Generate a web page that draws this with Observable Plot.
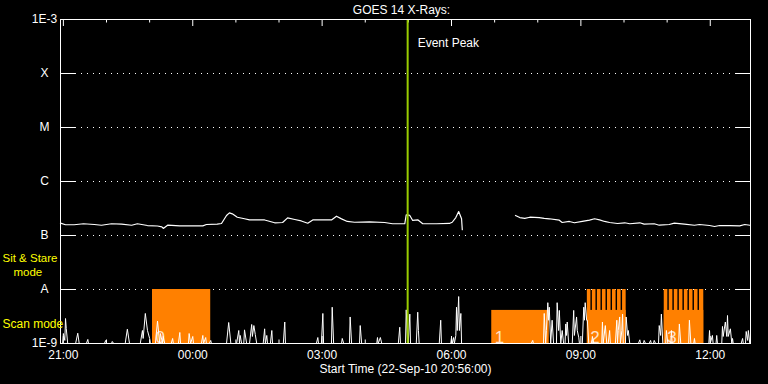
<!DOCTYPE html>
<html><head><meta charset="utf-8">
<script src="https://cdn.jsdelivr.net/npm/d3@7"></script>
<script src="https://cdn.jsdelivr.net/npm/@observablehq/plot@0.6"></script>
<style>html,body{margin:0;padding:0;background:#000;} svg{display:block}</style>
</head><body><div id="chart"></div>
<script>
// ---- data ----
const titleText = "GOES 14 X-Rays:";
const startText = "Start Time (22-Sep-10 20:56:00)";
const xTickLabels = ["21:00", "00:00", "03:00", "06:00", "09:00", "12:00"];
const yTickValues = [1e-9, 1e-8, 1e-7, 1e-6, 1e-5, 1e-4, 1e-3];
const yTickLabels = ["1E-9", "A", "B", "C", "M", "X", "1E-3"];
const gridValues = [1e-8, 1e-7, 1e-6, 1e-5, 1e-4];
const eventPeak = "04:59";
const eventLabel = "Event Peak";

// GOES long channel: [minutes since 20:56, flux in 1e-7 W/m2]; NaN = data gap
const xray = [[0,1.69],[7,1.58],[19,1.58],[32,1.65],[47,1.60],[57,1.55],[71,1.65],[85,1.62],[99,1.55],[107,1.65],
[121,1.53],[135,1.50],[141,1.45],[143,1.35],[149,1.55],[166,1.51],[186,1.51],[198,1.51],[203,1.60],[218,1.62],
[224,1.67],[231,2.35],[235,2.62],[239,2.52],[246,2.18],[256,2.04],[263,1.94],[284,1.94],[298,1.72],[309,1.74],
[316,2.12],[326,1.98],[335,1.86],[344,1.69],[351,1.94],[365,1.95],[377,1.94],[384,2.28],[391,2.03],[399,1.82],
[409,1.76],[430,1.79],[451,1.74],[462,1.65],[479,1.65],[481,2.42],[486,2.35],[490,1.90],[497,1.95],[504,1.65],
[523,1.65],[541,1.67],[545,1.76],[550,2.15],[554,2.78],[558,2.04],[559,1.28],[595,NaN],
[633,2.35],[639,2.15],[646,2.07],[653,2.18],[666,2.15],[673,2.07],[680,2.04],[694,1.92],[698,1.74],[708,1.82],
[715,1.72],[726,1.82],[736,1.92],[743,2.04],[750,1.95],[757,1.82],[764,1.74],[775,1.67],[785,1.72],[792,1.65],
[806,1.72],[812,1.62],[826,1.65],[833,1.55],[847,1.60],[854,1.69],[868,1.62],[882,1.55],[889,1.60],[903,1.53],
[910,1.47],[917,1.53],[931,1.53],[945,1.51],[952,1.60],[959,1.55]];

// low-level channel: [minutes since 20:56, flux in 1e-9 W/m2]
const lowChan = [[0,1.0],[3,1.0],[4,1.53],[6,1.14],[7,2.9],[8,1.9],[10,1.0],
[21,1.0],[24,1.55],[26,1.0],[36,1.0],[38,1.19],[39,1.0],[61,1.0],[63,1.14],[64,1.0],
[71,1.0],[72,1.09],[74,1.0],[90,1.0],[93,1.84],[96,1.0],
[111,1.0],[114,1.74],[115,1.24],[118,3.6],[121,1.74],[124,1.24],[125,1.0],
[132,1.0],[135,2.6],[138,1.0],[139,1.53],[142,1.0],[143,1.35],[145,1.0],
[154,1.0],[156,1.24],[157,1.0],[164,1.0],[166,1.6],[167,1.0],
[178,1.0],[179,1.53],[181,1.0],[184,1.35],[185,1.0],
[196,1.0],[198,1.41],[199,1.0],[202,1.29],[203,1.0],[207,1.0],[209,1.14],[210,1.0],
[231,1.0],[234,2.45],[237,1.0],[245,1.0],[248,1.74],[249,1.0],[250,1.41],[252,1.0],
[255,1.0],[256,1.79],[259,1.0],[263,1.0],[266,2.25],[267,1.35],[269,2.15],[271,1.47],[273,1.0],
[282,1.0],[284,1.87],[285,1.0],[287,1.41],[288,1.0],[292,1.0],[294,1.74],[295,1.0],
[310,1.0],[312,2.5],[313,1.0],[356,1.0],[358,1.29],[359,1.0],[363,1.0],[365,3.6],[366,1.0],
[377,1.0],[378,4.7],[380,1.0],[391,1.0],[392,1.24],[394,1.0],[402,1.0],[403,3.1],[405,1.0],
[416,1.0],[417,2.15],[419,1.0],[440,1.0],[441,1.29],[442,1.0],[445,1.29],[447,1.0],
[470,1.0],[472,2.0],[473,1.0],[480,1.0],[481,4.2],[483,1.0],[484,1.14],[486,3.5],[487,1.0],
[495,1.0],[497,3.8],[498,1.74],[499,1.0],[527,1.0],[529,2.7],[530,1.0],
[543,1.0],[544,1.29],[545,1.0],[547,1.29],[548,1.0],[550,1.41],[551,4.7],[552,1.74],[554,7.4],[555,1.74],[557,3.6],[558,1.0],
[655,1.0],[657,1.14],[658,1.0],
[672,1.0],[673,3.6],[675,1.0],[676,1.74],[678,5.7],[679,2.7],[680,4.7],[682,1.0],[684,2.7],[686,1.0],
[690,1.0],[691,5.7],[693,1.74],[694,4.1],[696,1.0],[698,1.74],[700,1.0],
[702,1.0],[703,2.3],[704,1.41],[705,2.5],[707,1.0],
[712,1.0],[714,4.1],[715,1.41],[718,3.1],[719,1.74],[721,1.31],[722,1.0],
[726,1.0],[728,4.7],[729,2.7],[730,5.7],[732,2.7],[733,2.7],[735,1.0],
[739,1.0],[740,1.35],[742,1.0],[753,1.0],[754,2.5],[755,1.0],[758,2.15],[760,1.0],
[762,1.0],[764,1.74],[765,1.0],
[772,1.0],[774,2.7],[775,1.0],[776,1.74],[778,3.1],[779,1.0],[781,1.74],[782,3.5],[783,1.0],
[786,1.0],[787,3.1],[789,1.41],[790,1.74],[792,1.0],
[804,1.0],[806,1.17],[807,1.0],[811,1.0],[812,1.14],[814,1.0],[819,1.0],[821,1.14],[822,1.0],
[825,1.0],[826,1.14],[828,1.0],[832,1.0],[833,2.15],[835,1.41],[836,3.5],[838,1.0],
[842,1.0],[843,1.74],[845,1.0],[849,1.0],[850,1.74],[851,1.0],[860,1.0],[861,2.3],[863,1.0],
[874,1.0],[875,2.7],[877,1.0],[881,1.0],[882,1.24],[883,1.0],
[902,1.0],[903,1.74],[904,1.0],[907,1.41],[908,1.0],[912,1.0],[913,1.41],[914,1.0],
[920,1.0],[921,2.07],[922,1.35],[925,2.5],[927,1.35],[928,3.3],[929,1.35],[932,1.87],[934,1.0],[935,1.24],[936,1.0],
[947,1.0],[949,1.24],[950,1.0],[953,1.0],[954,1.67],[956,1.14],[957,1.74],[959,1.0],[960,1.0]];

// observing-mode blocks (minutes since start), top level in 1e-9 units, and numbers
const blockStart = [128, 600, 733, 840];
const blockEnd   = [209, 680, 787, 895];
const blockTopE9 = [10, 4.1, 4.1, 4.1];
const blockLabel = ["0", "1", "2", "3"];
// sit & stare pulses (minutes since start)
const stareStart = [733, 740, 747, 754, 761, 768, 775, 782, 840, 847, 854, 861, 868, 875, 882, 889];
const stareEnd   = [738, 745, 752, 759, 766, 773, 780, 787, 845, 852, 859, 866, 873, 880, 887, 895];
const stareTopE9 = 10;

// ---- helpers ----
const T0 = Date.UTC(2010, 8, 22, 20, 56);
const at = m => new Date(T0 + m * 60000);
const clock = s => { const [h, mm] = s.split(":").map(Number); return new Date(Date.UTC(2010, 8, h >= 20 ? 22 : 23, h, mm)); };

const blocks = blockStart.map((s, i) => ({s, e: blockEnd[i], top: blockTopE9[i] * 1e-9, label: blockLabel[i]}));
const stares = stareStart.map((s, i) => ({s, e: stareEnd[i]}));
const xTicks = xTickLabels.map(clock);
const hours = d3.utcHour.range(at(0), at(960));
const majorHours = hours.filter(d => d.getUTCHours() % 3 === 0);
const minorHours = hours.filter(d => d.getUTCHours() % 3 !== 0);
const FH = 324, FW = 690;
const W = "#ffffff";
const Y = "#ffff00";

const chart = Plot.plot({
  width: 768, height: 384,
  marginLeft: 60, marginRight: 18, marginTop: 19, marginBottom: 41,
  style: {background: "#000", color: W, fontFamily: "'Liberation Sans', sans-serif", fontSize: "12px"},
  x: {type: "utc", domain: [at(0), at(960)], axis: null},
  y: {type: "log", domain: [1e-9, 1e-3], axis: null},
  marks: [
    Plot.ruleY(gridValues, {stroke: W, strokeDasharray: "1 5", insetLeft: 15, insetRight: 15}),
    Plot.ruleY(gridValues, {stroke: W, insetRight: FW - 15}),
    Plot.ruleY(gridValues, {stroke: W, insetLeft: FW - 15}),
    Plot.ruleX(majorHours, {stroke: W, insetBottom: FH - 7}),
    Plot.ruleX(minorHours, {stroke: W, insetBottom: FH - 3.5}),
    Plot.ruleX(majorHours, {stroke: W, insetTop: FH - 7}),
    Plot.ruleX(minorHours, {stroke: W, insetTop: FH - 3.5}),
    Plot.rect(blocks, {x1: d => at(d.s), x2: d => at(d.e), y1: 1e-9, y2: d => d.top, fill: "#ff8000"}),
    Plot.rect(stares, {x1: d => at(d.s), x2: d => at(d.e), y1: 1e-9, y2: stareTopE9 * 1e-9, fill: "#ff8000"}),
    Plot.text(blocks, {x: d => at(d.s), y: 1e-9, text: d => d.label, textAnchor: "start", lineAnchor: "bottom", dx: 3, dy: -1, fontSize: 17, fill: "#ffe2c8"}),
    Plot.line(lowChan, {x: d => at(d[0]), y: d => d[1] * 1e-9, stroke: W, strokeWidth: 1}),
    Plot.line(xray, {x: d => at(d[0]), y: d => d[1] * 1e-7, stroke: W, strokeWidth: 1.2}),
    Plot.ruleX([clock(eventPeak)], {stroke: "#99cc00", strokeWidth: 2}),
    Plot.text([eventLabel], {x: () => clock(eventPeak), text: d => d, frameAnchor: "top", lineAnchor: "middle", dx: 10, dy: 24, textAnchor: "start", fill: W}),
    Plot.frame({stroke: W}),
    Plot.text(yTickValues, {y: d => d, text: (d, i) => yTickLabels[i], frameAnchor: "left", lineAnchor: "middle", dx: -16, textAnchor: "middle", fill: W}),
    Plot.text(xTicks, {x: d => d, text: (d, i) => xTickLabels[i], frameAnchor: "bottom", lineAnchor: "middle", dy: 12, fill: W}),
    Plot.text([titleText], {text: d => d, frameAnchor: "top", lineAnchor: "middle", dy: -9, dx: -4, fill: W}),
    Plot.text([startText], {text: d => d, frameAnchor: "bottom", lineAnchor: "middle", dy: 26, fill: W}),
    Plot.text(["Sit & Stare"], {text: d => d, frameAnchor: "bottom-left", lineAnchor: "middle", dx: -58, dy: -85, textAnchor: "start", fill: Y, fontSize: 11.5}),
    Plot.text(["mode"], {text: d => d, frameAnchor: "bottom-left", lineAnchor: "middle", dx: -47, dy: -71, textAnchor: "start", fill: Y, fontSize: 11.5}),
    Plot.text(["Scan mode"], {text: d => d, frameAnchor: "bottom-left", lineAnchor: "middle", dx: -58, dy: -19, textAnchor: "start", fill: Y, fontSize: 12})
  ]
});
document.getElementById("chart").append(chart);
</script>
</body></html>
